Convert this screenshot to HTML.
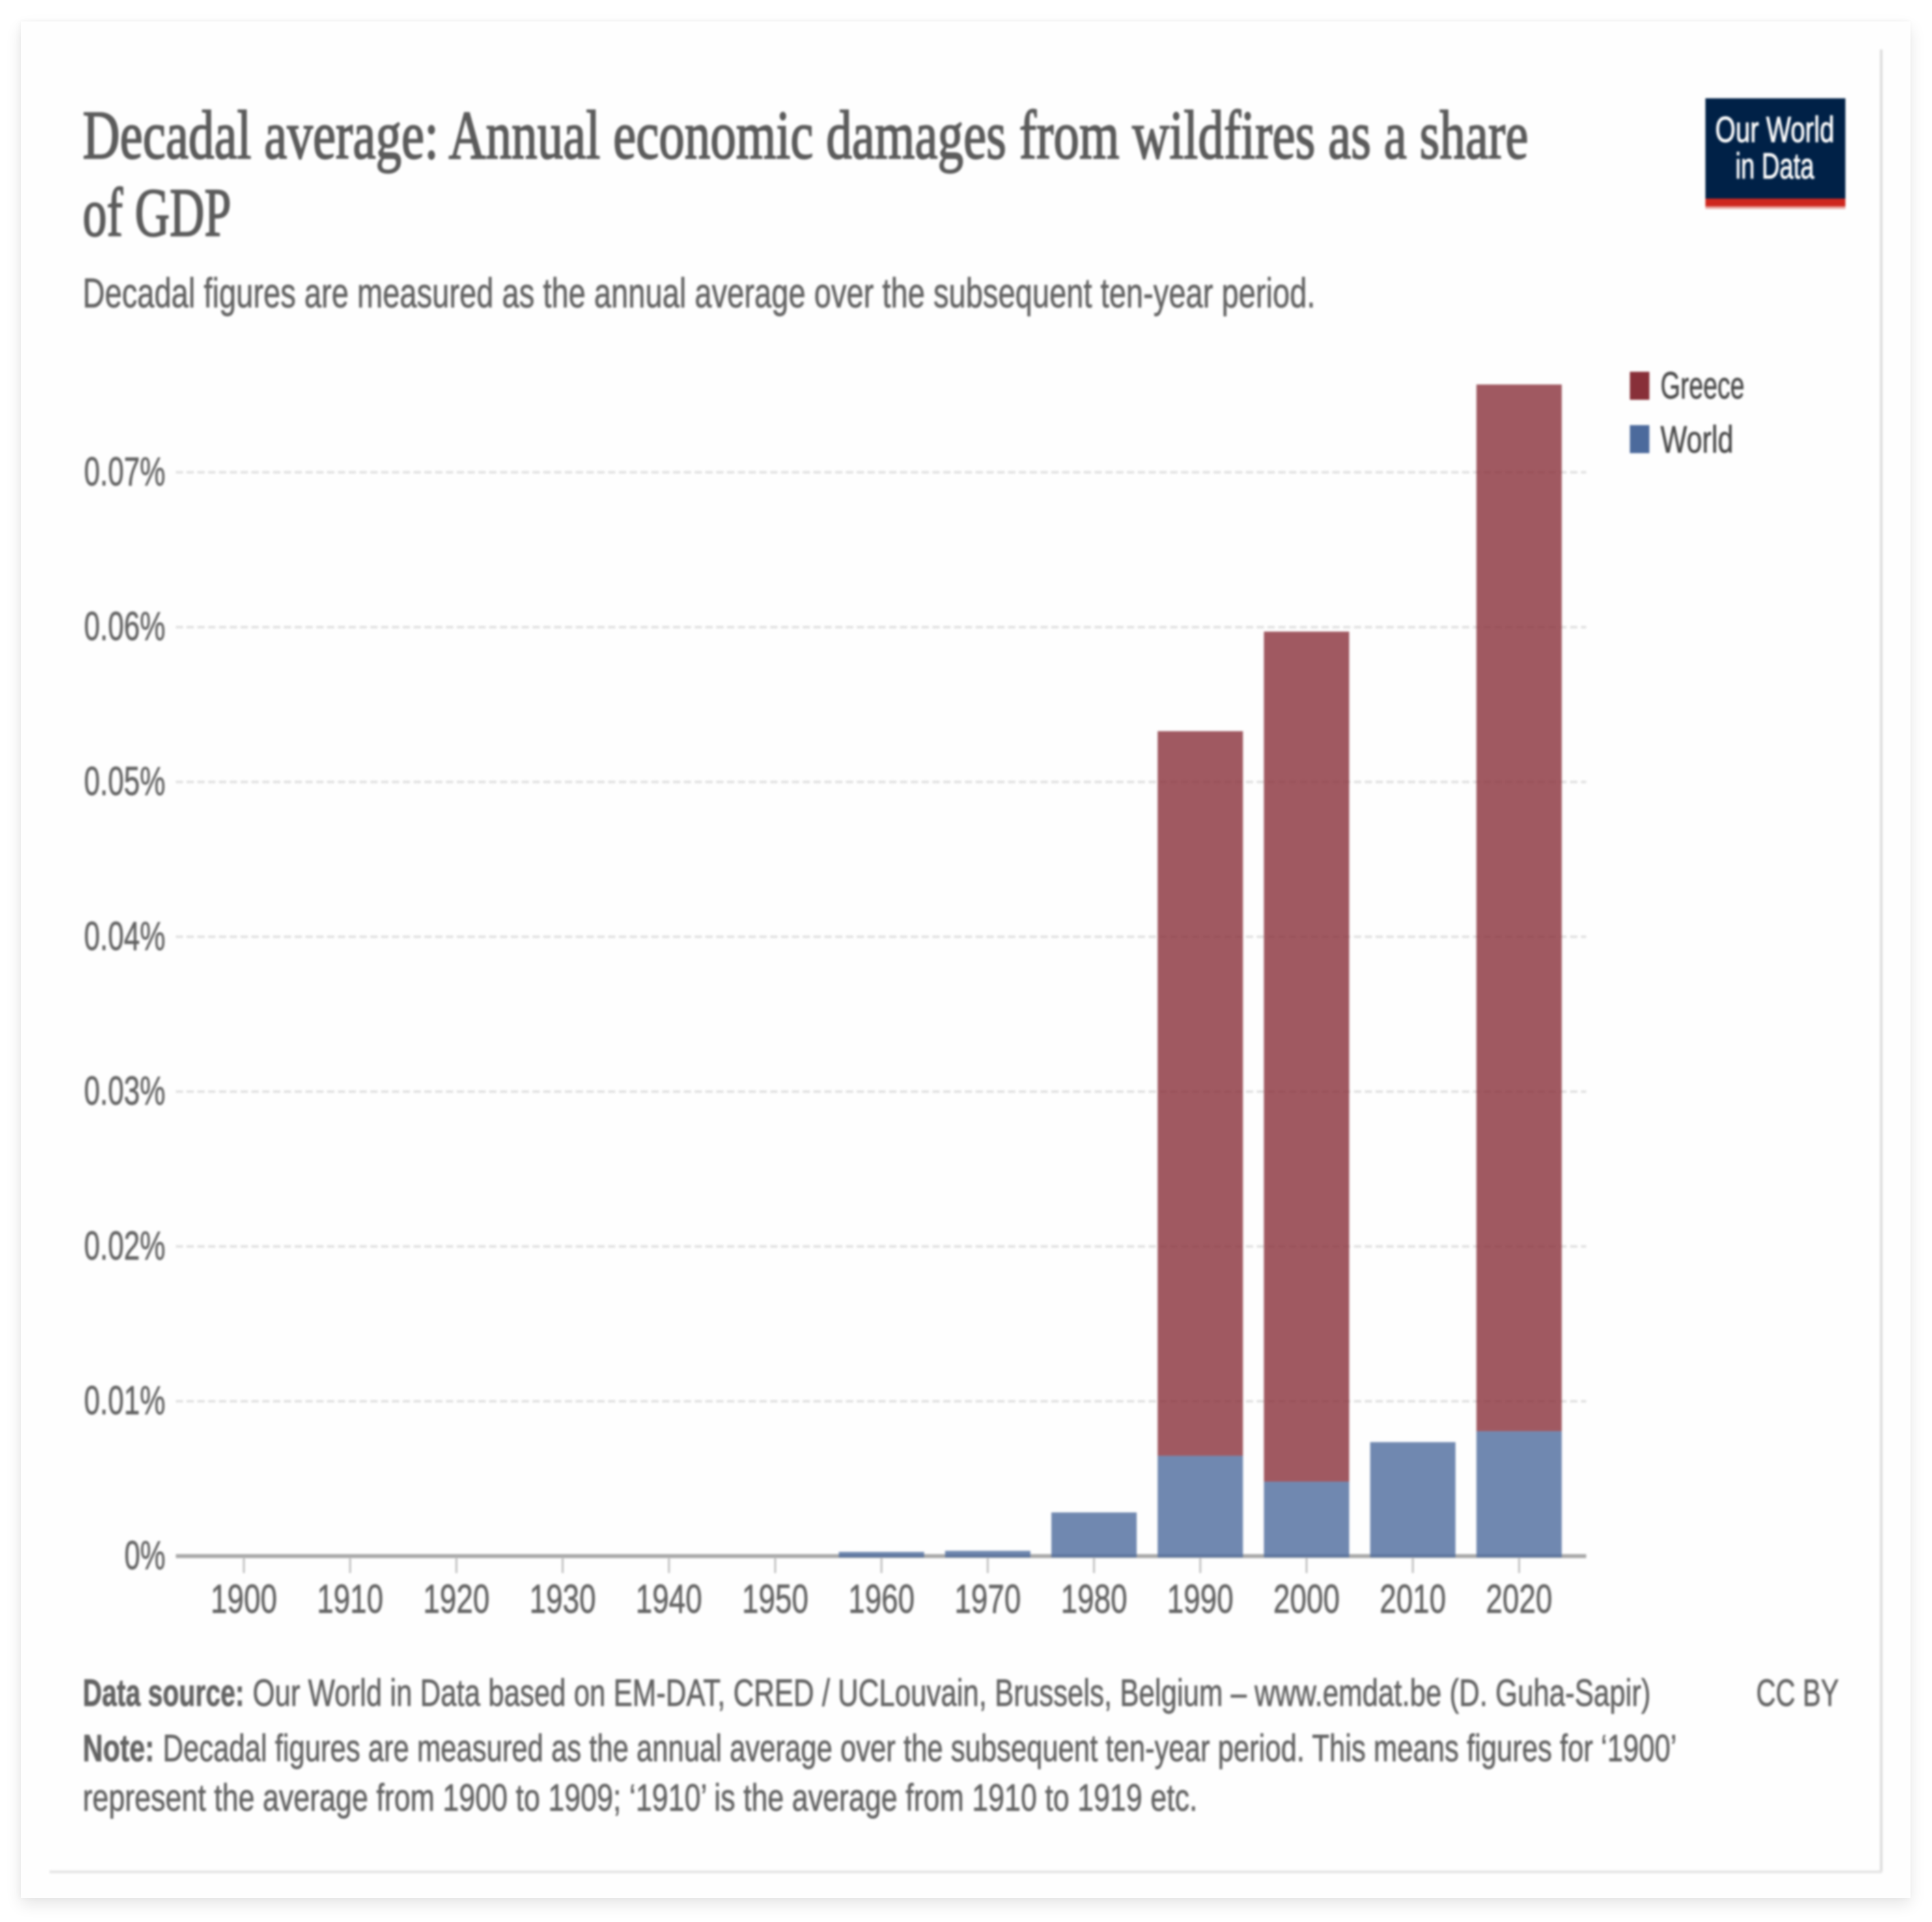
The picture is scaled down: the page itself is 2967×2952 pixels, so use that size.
<!DOCTYPE html>
<html lang="en">
<head>
<meta charset="utf-8">
<title>Decadal average: Annual economic damages from wildfires as a share of GDP</title>
<style>
  html, body { margin: 0; padding: 0; background: #fff; }
  body { width: 2967px; height: 2952px; position: relative; overflow: hidden; }
  #card { position: absolute; left: 32px; top: 33px; width: 2902px; height: 2882px; background: #fefefe; box-shadow: 0 10px 22px rgba(0,0,0,.10), -2px 0 8px rgba(0,0,0,.03), 0 -2px 6px rgba(0,0,0,.015); }
  #chart { position: absolute; left: 0; top: 0; filter: blur(1.6px); }
  text { font-family: "Liberation Sans", sans-serif; fill: #626262; stroke: #626262; stroke-width: 0.7px; }
</style>
</head>
<body>
<div id="card"></div>
<svg id="chart" width="2967" height="2952" viewBox="0 0 2967 2952" xmlns="http://www.w3.org/2000/svg">
  <g>
    <line x1="2889" y1="76" x2="2889" y2="2875" stroke="#dcdcdc" stroke-width="4"/>
    <line x1="76" y1="2875" x2="2890" y2="2875" stroke="#e4e4e4" stroke-width="4"/>
  </g>

  <text x="127" y="243" textLength="2220" lengthAdjust="spacingAndGlyphs" style="font-family:'Liberation Serif',serif;font-size:106px;fill:#5b5b5b;stroke:#5b5b5b;stroke-width:2.2px">Decadal average: Annual economic damages from wildfires as a share</text>
  <text x="127" y="362" textLength="228" lengthAdjust="spacingAndGlyphs" style="font-family:'Liberation Serif',serif;font-size:106px;fill:#5b5b5b;stroke:#5b5b5b;stroke-width:2.2px">of GDP</text>
  <text x="127" y="472" textLength="1893" lengthAdjust="spacingAndGlyphs" style="font-size:64px">Decadal figures are measured as the annual average over the subsequent ten-year period.</text>

  <g>
    <rect x="2619" y="151" width="215" height="169" fill="#002147"/>
    <rect x="2619" y="305" width="215" height="12" fill="#ce261e"/>
    <rect x="2619" y="317" width="215" height="4" fill="#eaa9a5"/>
    <text x="2634" y="218" textLength="183" lengthAdjust="spacingAndGlyphs" style="font-size:56px;fill:#fff;stroke:#fff;stroke-width:1px">Our World</text>
    <text x="2665" y="274" textLength="121" lengthAdjust="spacingAndGlyphs" style="font-size:56px;fill:#fff;stroke:#fff;stroke-width:1px">in Data</text>
  </g>

  <g id="grid"></g>
  <g id="yLabels"></g>
  <line x1="270" y1="2390" x2="2436" y2="2390" stroke="#a8a8a8" stroke-width="6"/>
  <g id="xTicks"></g>
  <g id="xLabels"></g>
  <g id="bars"></g>

  <g>
    <g>
      <rect x="2503" y="571" width="30" height="43" fill="#883039"/>
      <text x="2550" y="612" textLength="129" lengthAdjust="spacingAndGlyphs" style="font-size:58px;fill:#4a4a4a;stroke:#4a4a4a">Greece</text>
    </g>
    <g>
      <rect x="2503" y="653" width="30" height="43" fill="#4c6a9c"/>
      <text x="2550" y="695" textLength="112" lengthAdjust="spacingAndGlyphs" style="font-size:58px;fill:#4a4a4a;stroke:#4a4a4a">World</text>
    </g>
  </g>

  <g>
    <text x="127" y="2620" textLength="248" lengthAdjust="spacingAndGlyphs" style="font-size:58px;font-weight:bold">Data source:</text>
    <text x="388" y="2620" textLength="2147" lengthAdjust="spacingAndGlyphs" style="font-size:58px">Our World in Data based on EM-DAT, CRED / UCLouvain, Brussels, Belgium – www.emdat.be (D. Guha-Sapir)</text>
    <text x="2697" y="2620" textLength="127" lengthAdjust="spacingAndGlyphs" style="font-size:58px">CC BY</text>
    <text x="127" y="2705" textLength="110" lengthAdjust="spacingAndGlyphs" style="font-size:58px;font-weight:bold">Note:</text>
    <text x="250" y="2705" textLength="2325" lengthAdjust="spacingAndGlyphs" style="font-size:58px">Decadal figures are measured as the annual average over the subsequent ten-year period. This means figures for ‘1900’</text>
    <text x="127" y="2781" textLength="1712" lengthAdjust="spacingAndGlyphs" style="font-size:58px">represent the average from 1900 to 1909; ‘1910’ is the average from 1910 to 1919 etc.</text>
  </g>
</svg>

<script>
const categories = [1900, 1910, 1920, 1930, 1940, 1950, 1960, 1970, 1980, 1990, 2000, 2010, 2020];
const worldValues = [0, 0, 0, 0, 0, 0, 0.00027, 0.00034, 0.00282, 0.00648, 0.00481, 0.00736, 0.00807];
const greeceValues = [0, 0, 0, 0, 0, 0, 0, 0, 0, 0.0468, 0.0549, 0, 0.0676];
const yTickValues = [0, 0.01, 0.02, 0.03, 0.04, 0.05, 0.06, 0.07];
const yTickLabels = ['0%', '0.01%', '0.02%', '0.03%', '0.04%', '0.05%', '0.06%', '0.07%'];

const SVG_NS = 'http://www.w3.org/2000/svg';
function xScale(year) { return 374.5 + (year - 1900) / 10 * 163.2; }
function yScale(value) { return 2390 - value * 23780; }
const BAR_WIDTH = 131;

const grid = document.getElementById('grid');
const yLabels = document.getElementById('yLabels');
yTickValues.forEach(function (v, i) {
  if (v > 0) {
    const line = document.createElementNS(SVG_NS, 'line');
    
    
    line.setAttribute('x1', 270);
    line.setAttribute('x2', 2436);
    line.setAttribute('y1', yScale(v));
    line.setAttribute('y2', yScale(v));
    line.setAttribute('stroke', '#dedede');
    line.setAttribute('stroke-width', 3.5);
    line.setAttribute('stroke-dasharray', '11 5.6');
    grid.appendChild(line);
  }
  const label = document.createElementNS(SVG_NS, 'text');
  
  
  const w = yTickLabels[i].length === 2 ? 63 : 125;
  label.setAttribute('x', 254 - w);
  label.setAttribute('y', yScale(v) + 20);
  label.setAttribute('textLength', w);
  label.setAttribute('lengthAdjust', 'spacingAndGlyphs');
  label.setAttribute('style', 'font-size:62px');
  label.textContent = yTickLabels[i];
  yLabels.appendChild(label);
});

const xTicks = document.getElementById('xTicks');
const xLabels = document.getElementById('xLabels');
const bars = document.getElementById('bars');
categories.forEach(function (year, i) {
  const cx = xScale(year);
  const tick = document.createElementNS(SVG_NS, 'line');
  
  
  tick.setAttribute('x1', cx);
  tick.setAttribute('x2', cx);
  tick.setAttribute('y1', 2392);
  tick.setAttribute('y2', 2416);
  tick.setAttribute('stroke', '#c0c0c0');
  tick.setAttribute('stroke-width', 3);
  xTicks.appendChild(tick);

  const label = document.createElementNS(SVG_NS, 'text');
  
  
  label.setAttribute('x', cx - 51);
  label.setAttribute('y', 2477);
  label.setAttribute('textLength', 102);
  label.setAttribute('lengthAdjust', 'spacingAndGlyphs');
  label.setAttribute('style', 'font-size:62px');
  label.textContent = String(year);
  xLabels.appendChild(label);

  const world = worldValues[i];
  const greece = greeceValues[i];
  if (world > 0) {
    const wr = document.createElementNS(SVG_NS, 'rect');
    
    
    wr.setAttribute('x', cx - BAR_WIDTH / 2);
    wr.setAttribute('y', yScale(world));
    wr.setAttribute('width', BAR_WIDTH);
    wr.setAttribute('height', yScale(0) - yScale(world) + 2);
    wr.setAttribute('fill', '#4c6a9c');
    wr.setAttribute('fill-opacity', 0.8);
    bars.appendChild(wr);
  }
  if (greece > 0) {
    const gr = document.createElementNS(SVG_NS, 'rect');
    
    
    gr.setAttribute('x', cx - BAR_WIDTH / 2);
    gr.setAttribute('y', yScale(world + greece));
    gr.setAttribute('width', BAR_WIDTH);
    gr.setAttribute('height', yScale(world) - yScale(world + greece));
    gr.setAttribute('fill', '#883039');
    gr.setAttribute('fill-opacity', 0.8);
    bars.appendChild(gr);
  }
});
</script>
</body>
</html>
